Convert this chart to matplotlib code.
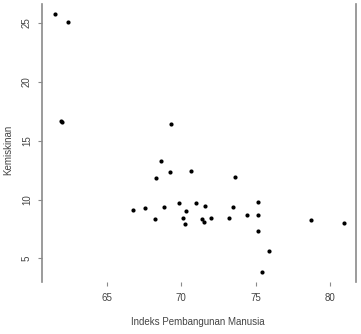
import matplotlib
matplotlib.use("Agg")
import matplotlib.pyplot as plt

# Indeks Pembangunan Manusia vs Kemiskinan
ipm = [61.53, 62.38, 61.91, 61.98, 69.30, 68.63, 69.22, 70.67, 68.33, 73.65,
       66.78, 67.56, 68.87, 69.85, 71.01, 71.63, 73.47, 70.31, 68.27, 70.12,
       71.40, 72.01, 73.24, 70.24, 71.54, 75.15, 74.43, 75.15, 75.19, 78.75,
       80.97, 75.89, 75.42]
kemiskinan = [25.72, 25.07, 16.69, 16.58, 16.41, 13.31, 12.33, 12.42, 11.85, 11.91,
              9.15, 9.24, 9.34, 9.68, 9.73, 9.47, 9.34, 9.01, 8.34, 8.43,
              8.33, 8.43, 8.41, 7.94, 8.06, 9.81, 8.66, 8.66, 7.35, 8.23,
              7.99, 5.65, 3.82]
x_ticks = [65, 70, 75, 80]
y_ticks = [5, 10, 15, 20, 25]

plt.rcParams["font.family"] = ["Liberation Sans", "DejaVu Sans"]
TXT = "#444444"
AX = "#8a8a8a"

fig = plt.figure(figsize=(3.61, 3.34), dpi=100)
ax = fig.add_axes([42 / 361, 1 - 282 / 334, 314 / 361, 278 / 334])

ax.scatter(ipm, kemiskinan, s=9, color="black", linewidths=0)

ax.set_xlim(60.65, 81.75)
ax.set_ylim(3.0, 26.6)

for side in ["top", "bottom"]:
    ax.spines[side].set_visible(False)
for side in ["left", "right"]:
    ax.spines[side].set_color(AX)
    ax.spines[side].set_linewidth(1.2)

ax.set_xticks(x_ticks)
ax.set_yticks(y_ticks)
ax.set_yticklabels([str(v) for v in y_ticks], rotation=90, va="center")
ax.tick_params(axis="both", colors=AX, labelcolor=TXT, labelsize=7,
               length=3.2, width=0.8)
ax.tick_params(axis="x", pad=5)
ax.tick_params(axis="y", pad=4)

fig.text(198 / 361, 1 - 322 / 334, "Indeks Pembangunan Manusia",
         ha="center", va="center", fontsize=7, color=TXT)
fig.text(8 / 361, 1 - 150 / 334, "Kemiskinan", rotation=90,
         ha="center", va="center", fontsize=7, color=TXT)

fig.savefig("out.png", dpi=100)
